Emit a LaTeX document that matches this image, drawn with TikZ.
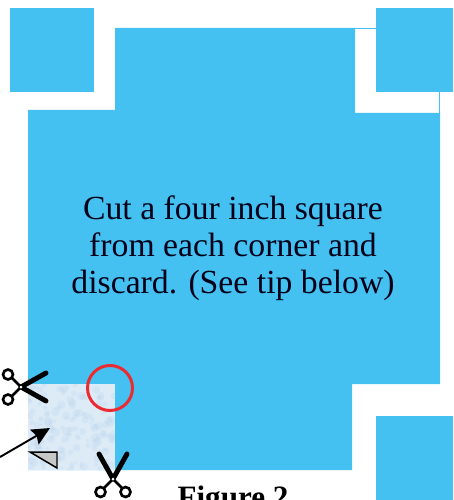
\documentclass[tikz,border=0pt]{standalone}
\usepackage{fontspec}
\setmainfont{Liberation Serif}
\usetikzlibrary{arrows.meta}
\definecolor{sheetblue}{HTML}{44C1F1}
\definecolor{paleblue}{HTML}{DDEBF7}
\definecolor{specblue}{HTML}{BFD8EE}
\definecolor{ringred}{HTML}{EC2A32}
\tikzset{
  snipper/.pic={
    \draw[line width=2.8pt,line cap=round] (0,0) -- (25,-14);
    \draw[line width=2.8pt,line cap=round] (0,0) -- (25,14);
    \draw[line width=1.5pt] (-13,-12.5) circle (5);
    \draw[line width=1.5pt] (-13,12.5) circle (5);
    \draw[line width=1.5pt] (0,0) -- (-9,-9) (0,0) -- (-9,9);
    \fill[white] (0,0) circle (1.5);
  }
}
\begin{document}
\begin{tikzpicture}[x=0.02cm,y=-0.02cm,>={Stealth[length=3.6mm,width=3.4mm,inset=0.5mm]},line cap=butt]
\useasboundingbox (0,0) rectangle (453,500);
% corner pieces
\fill[sheetblue] (10,8) rectangle (94,92);
\fill[sheetblue] (376,8) rectangle (453,92);
\fill[sheetblue] (376,416) rectangle (453,500);
% main sheet
\draw[sheetblue,line width=0.4pt] (355,28.5) -- (439.5,28.5) -- (439.5,113);
\fill[sheetblue] (115,28) -- (355,28) -- (355,113) -- (440,113) -- (440,384) -- (352,384) -- (352,470) -- (28,470) -- (28,110) -- (115,110) -- cycle;
% cut corner
\fill[paleblue] (28,384) rectangle (115,470);
\begin{scope}
\clip (28,384) rectangle (115,470);
\pgfmathsetseed{7}
\foreach \i in {1,...,160}{
  \fill[specblue,opacity=0.3] (28+87*rnd,384+86*rnd) circle (1.5+3*rnd);
}
\end{scope}
\node[font=\fontsize{19.2}{21}\selectfont,align=center,text=black!90!blue] (note) at (233,248) {Cut a four inch square\\from each corner and\\discard. (See tip below)};
\node[font=\fontsize{17.7}{20}\selectfont\bfseries,anchor=base] (figcap) at (233,507) {Figure 2};
% marks
\draw[ringred,line width=1.7pt] (110,388) circle (22.5);
\coordinate (tail) at (0,457);
\coordinate (tip) at (50,428);
\draw[->,line width=1.1pt] (tail) -- (tip);
\draw[line width=0.85pt,fill=black!22] (30,452) -- (57,452) -- (57,468) -- cycle;
\pic at (21,387) {snipper};
\pic[rotate=90] at (113,479) {snipper};
\end{tikzpicture}
\end{document}
